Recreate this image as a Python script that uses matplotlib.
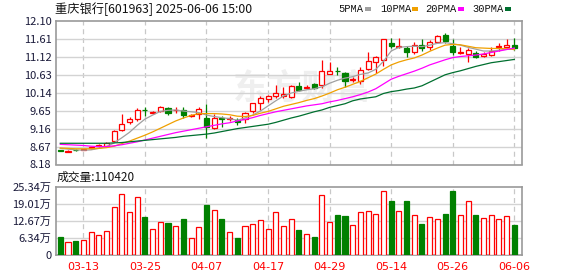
import numpy as np
import matplotlib
matplotlib.use("Agg")
import matplotlib.pyplot as plt

plt.rcParams['font.family'] = ['Noto Sans CJK SC', 'DejaVu Sans']

# trading days shown
dates = ["03-10", "03-11", "03-12", "03-13", "03-14", "03-17", "03-18", "03-19", "03-20", "03-21",
         "03-24", "03-25", "03-26", "03-27", "03-28", "03-31", "04-01", "04-02", "04-03", "04-07",
         "04-08", "04-09", "04-10", "04-11", "04-14", "04-15", "04-16", "04-17", "04-18", "04-21",
         "04-22", "04-23", "04-24", "04-25", "04-28", "04-29", "04-30", "05-06", "05-07", "05-08",
         "05-09", "05-12", "05-13", "05-14", "05-15", "05-16", "05-19", "05-20", "05-21", "05-22",
         "05-23", "05-26", "05-27", "05-28", "05-29", "05-30", "06-03", "06-04", "06-05", "06-06"]

opens = [8.57, 8.53, 8.58, 8.58, 8.62, 8.68, 8.68, 8.81, 9.12, 9.33,
         9.41, 9.68, 9.59, 9.64, 9.71, 9.67, 9.66, 9.51, 9.55, 9.44,
         9.17, 9.46, 9.43, 9.39, 9.42, 9.64, 9.85, 9.96, 10.06, 10.05,
         10.02, 10.32, 10.26, 10.38, 10.35, 10.64, 10.74, 10.67, 10.50, 10.46,
         10.78, 10.99, 11.03, 11.51, 11.39, 11.37, 11.26, 11.44, 11.40, 11.53,
         11.72, 11.43, 11.22, 11.19, 11.23, 11.15, 11.17, 11.38, 11.40, 11.44]
closes = [8.56, 8.56, 8.57, 8.59, 8.65, 8.72, 8.78, 9.09, 9.28, 9.43,
          9.66, 9.67, 9.61, 9.76, 9.60, 9.68, 9.53, 9.54, 9.69, 9.21,
          9.44, 9.42, 9.44, 9.35, 9.58, 9.85, 10.00, 10.05, 10.12, 10.10,
          10.32, 10.21, 10.31, 10.26, 10.73, 10.73, 10.73, 10.47, 10.52, 10.75,
          11.00, 11.11, 11.60, 11.43, 11.42, 11.26, 11.44, 11.35, 11.53, 11.69,
          11.55, 11.24, 11.24, 11.31, 11.12, 11.19, 11.28, 11.42, 11.44, 11.35]
highs = [8.58, 8.57, 8.59, 8.60, 8.67, 8.73, 8.80, 9.12, 9.57, 9.48,
         9.71, 9.76, 9.63, 9.79, 9.74, 9.76, 9.74, 9.56, 9.74, 9.83,
         9.57, 9.50, 9.50, 9.44, 9.62, 9.86, 10.05, 10.08, 10.35, 10.30,
         10.35, 10.44, 10.35, 10.40, 11.03, 10.98, 10.83, 10.71, 10.56, 10.85,
         11.26, 11.14, 11.60, 11.63, 11.63, 11.42, 11.53, 11.60, 11.58, 11.73,
         11.78, 11.60, 11.38, 11.35, 11.28, 11.26, 11.40, 11.50, 11.60, 11.64]
lows = [8.55, 8.52, 8.56, 8.57, 8.61, 8.66, 8.66, 8.79, 9.10, 9.28,
        9.37, 9.51, 9.57, 9.62, 9.53, 9.59, 9.44, 9.49, 9.42, 8.91,
        9.14, 9.21, 9.37, 9.27, 9.30, 9.59, 9.66, 9.89, 10.01, 10.00,
        10.00, 10.18, 10.23, 10.23, 10.26, 10.64, 10.62, 10.30, 10.44, 10.37,
        10.76, 10.69, 10.88, 11.37, 11.37, 11.12, 11.21, 11.29, 11.31, 11.51,
        11.49, 11.17, 11.19, 10.98, 11.08, 11.12, 11.14, 11.29, 11.35, 11.31]

# volume in 万 (10k hands)
volumes = [6.67, 4.82, 5.30, 5.56, 8.50, 7.30, 8.90, 17.8, 22.6, 15.8,
           21.4, 14.1, 9.60, 12.2, 11.9, 10.75, 13.35, 6.30, 10.26, 18.5,
           16.7, 13.35, 8.50, 6.30, 10.75, 11.5, 12.85, 9.60, 15.8, 10.75,
           13.2, 9.30, 7.80, 6.67, 22.2, 12.4, 14.8, 14.5, 11.1, 15.8,
           16.2, 15.2, 23.7, 20.0, 16.2, 20.0, 14.7, 11.5, 14.0, 13.2,
           15.2, 23.7, 14.8, 20.0, 14.8, 13.6, 14.7, 13.2, 14.3, 11.04]

ma5 = [8.62, 8.60, 8.58, 8.57, 8.58, 8.62, 8.67, 8.77, 8.91, 9.06,
       9.25, 9.42, 9.53, 9.63, 9.66, 9.67, 9.64, 9.62, 9.60, 9.53,
       9.49, 9.46, 9.43, 9.39, 9.45, 9.53, 9.64, 9.78, 9.92, 10.05,
       10.13, 10.18, 10.22, 10.25, 10.30, 10.40, 10.48, 10.54, 10.58, 10.64,
       10.68, 10.78, 11.00, 11.28, 11.38, 11.40, 11.41, 11.40, 11.44, 11.49,
       11.51, 11.48, 11.44, 11.38, 11.33, 11.28, 11.28, 11.30, 11.33, 11.35]
ma10 = [8.63, 8.62, 8.61, 8.61, 8.61, 8.62, 8.64, 8.68, 8.75, 8.82,
        8.90, 8.98, 9.07, 9.17, 9.27, 9.37, 9.45, 9.52, 9.57, 9.57,
        9.57, 9.56, 9.54, 9.50, 9.49, 9.52, 9.58, 9.63, 9.70, 9.77,
        9.82, 9.87, 9.93, 9.98, 10.05, 10.13, 10.22, 10.29, 10.37, 10.45,
        10.55, 10.65, 10.78, 10.90, 10.98, 11.04, 11.09, 11.17, 11.27, 11.36,
        11.44, 11.46, 11.45, 11.41, 11.37, 11.36, 11.35, 11.35, 11.34, 11.32]
ma20 = [8.73, 8.72, 8.71, 8.70, 8.68, 8.67, 8.67, 8.69, 8.72, 8.76,
        8.80, 8.85, 8.90, 8.95, 9.00, 9.05, 9.09, 9.13, 9.17, 9.21,
        9.25, 9.29, 9.32, 9.37, 9.41, 9.46, 9.52, 9.57, 9.62, 9.66,
        9.70, 9.74, 9.78, 9.81, 9.84, 9.89, 9.93, 9.98, 10.03, 10.09,
        10.16, 10.25, 10.38, 10.51, 10.59, 10.66, 10.73, 10.81, 10.90, 10.97,
        11.04, 11.10, 11.13, 11.15, 11.17, 11.20, 11.24, 11.28, 11.32, 11.36]
ma30 = [8.76, 8.76, 8.76, 8.76, 8.76, 8.76, 8.76, 8.77, 8.78, 8.80,
        8.82, 8.84, 8.86, 8.88, 8.90, 8.92, 8.95, 8.97, 8.99, 9.01,
        9.04, 9.08, 9.12, 9.16, 9.19, 9.22, 9.25, 9.28, 9.33, 9.39,
        9.45, 9.50, 9.56, 9.62, 9.67, 9.74, 9.79, 9.84, 9.92, 9.97,
        10.00, 10.03, 10.12, 10.17, 10.20, 10.24, 10.27, 10.33, 10.43, 10.53,
        10.63, 10.69, 10.74, 10.80, 10.86, 10.91, 10.96, 10.99, 11.02, 11.05]

price_ticks = [8.18, 8.67, 9.16, 9.65, 10.14, 10.63, 11.12, 11.61, 12.10]
vol_ticks = [0, 6.34, 12.67, 19.01, 25.34]
date_ticks = ["03-13", "03-25", "04-07", "04-17", "04-29", "05-14", "05-26", "06-06"]

RED = "#ff0000"
GREEN = "#008000"
LABEL = "#1a1a3a"
FRAME = "#999999"
GRID = "#d3d3d3"

W, H = 578, 276
fig = plt.figure(figsize=(W / 100, H / 100), dpi=100)

def px_axes(left, top, right, bottom):
    return fig.add_axes([left / W, 1 - bottom / H, (right - left) / W, (bottom - top) / H])

ax = px_axes(55.5, 21, 522, 164.5)
axv = px_axes(55.5, 186.7, 522, 255)

x = np.arange(len(dates))
opens_a = np.array(opens)
closes_a = np.array(closes)
up = closes_a >= opens_a
tick_idx = [dates.index(d) for d in date_ticks]

for a in (ax, axv):
    a.set_xlim(-0.62, len(dates))
    for s in a.spines.values():
        s.set_color(FRAME)
        s.set_linewidth(1.2)
    a.set_xticks([])
    for i in tick_idx:
        a.axvline(i, color="#c8c8c8", lw=0.9, ls=(0, (4, 3)), zorder=0)
    a.tick_params(axis="y", length=0, pad=3, labelsize=8, labelcolor=LABEL)

# watermark
ax.text(0.53, 0.53, "东方财富", transform=ax.transAxes, fontsize=25, fontweight="bold",
        color="#efefef", ha="center", va="center", zorder=0)

# price panel
ax.set_ylim(price_ticks[0], price_ticks[-1])
ax.set_yticks(price_ticks)
ax.set_yticklabels([f"{t:.2f}" for t in price_ticks])
for t in price_ticks[1:-1]:
    ax.axhline(t, color=GRID, lw=1, zorder=0)

cw = 0.66
ax.vlines(x, lows, highs, colors=[RED if u else GREEN for u in up], lw=0.9, zorder=2)
body_low = np.minimum(opens_a, closes_a)
body_h = np.maximum(np.abs(closes_a - opens_a), 0.006)
ax.bar(x[up], body_h[up], cw, bottom=body_low[up], facecolor="white", edgecolor=RED, lw=0.9, zorder=3)
ax.bar(x[~up], body_h[~up], cw, bottom=body_low[~up], facecolor=GREEN, edgecolor=GREEN, lw=0.9, zorder=3)

ax.plot(x, ma5, color="#a0a0a0", lw=0.9, zorder=4)
ax.plot(x, ma10, color="#f0a000", lw=0.9, zorder=4)
ax.plot(x, ma20, color="#ff00ff", lw=0.9, zorder=4)
ax.plot(x, ma30, color="#006f2f", lw=0.9, zorder=4)

# volume panel
vol_a = np.array(volumes)
axv.set_ylim(0, vol_ticks[-1])
axv.set_yticks(vol_ticks)
axv.set_yticklabels(["0"] + [f"{t:.2f}万" for t in vol_ticks[1:]])
for t in vol_ticks[1:-1]:
    axv.axhline(t, color=GRID, lw=1, zorder=0)
axv.bar(x[up], vol_a[up], cw, facecolor="white", edgecolor=RED, lw=0.9, zorder=3)
axv.bar(x[~up], vol_a[~up], cw, facecolor=GREEN, edgecolor=GREEN, lw=0.9, zorder=3)

for i, d in zip(tick_idx, date_ticks):
    axv.text(i, -0.1, d, transform=axv.get_xaxis_transform(), ha="center", va="top",
             fontsize=8, color=RED, family="DejaVu Sans")

# texts
fig.text(55 / W, 1 - 9 / H, "重庆银行[601963] 2025-06-06 15:00", fontsize=8.8, va="center", ha="left", color="#111111")
fig.text(57 / W, 1 - 177 / H, "成交量:110420", fontsize=8.5, va="center", ha="left", color="#111111")

# legend: label left edge, marker left edge (px)
legend_items = [("5PMA", "#a0a0a0", 338, 365), ("10PMA", "#f0a000", 380, 412),
                ("20PMA", "#ff00ff", 425, 458), ("30PMA", "#006f2f", 472, 505)]
for name, col, lx, mx in legend_items:
    fig.text(lx / W, 1 - 9 / H, name, fontsize=7.5, va="center", ha="left",
             color="#111111", family="Liberation Mono")
    fig.patches.append(plt.Rectangle((mx / W, 1 - 10.5 / H), 6 / W, 3 / H,
                                     transform=fig.transFigure, facecolor=col, edgecolor="none"))

fig.savefig("out.png", dpi=100)
